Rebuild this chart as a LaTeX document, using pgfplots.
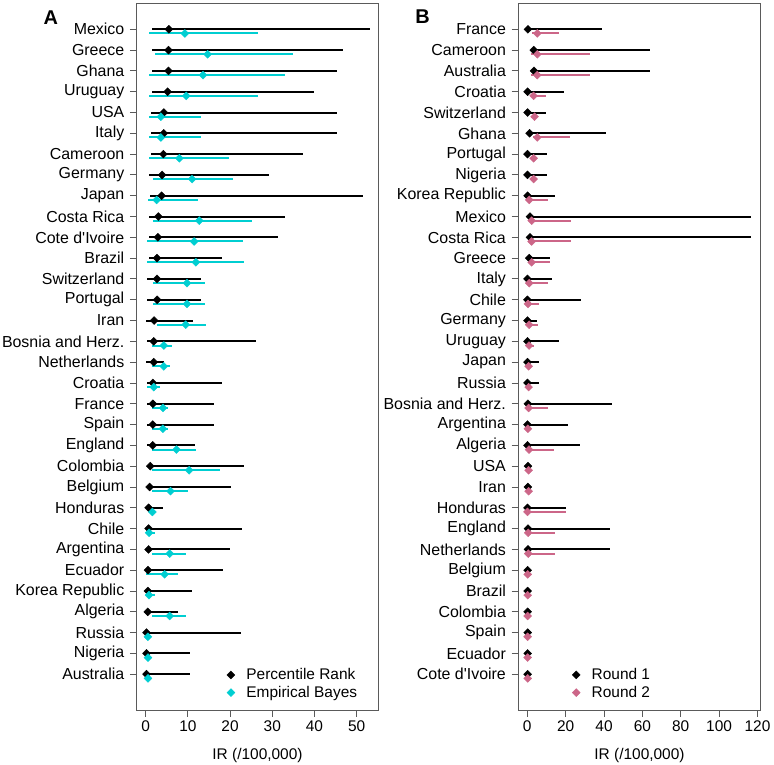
\documentclass[border=0pt]{standalone}
\usepackage{pgfplots}
\pgfplotsset{compat=1.18}
\usepackage{pgfplotstable}
\usepackage{fontspec}
\setmainfont{Liberation Sans}[Ligatures=TeXOff]
\definecolor{eb}{RGB}{0,206,209}
\definecolor{rtwo}{RGB}{204,102,136}
\definecolor{frame}{RGB}{90,90,90}

% Panel A: Percentile Rank (black)  y lo pt hi
\pgfplotstableread{
y lo pt hi
32 1.6 5.5 53.2
31 1.6 5.4 46.7
30 1.6 5.4 45.3
29 1.5 5.2 39.9
28 1.2 4.3 45.3
27 1.2 4.3 45.3
26 1.2 4.2 37.2
25 0.7 3.9 29.2
24 1.0 3.8 51.4
23 0.7 3.0 33.0
22 0.7 2.9 31.4
21 0.7 2.7 18.1
20 0.4 2.7 13.2
19 0.4 2.7 13.2
18 0.2 2.0 11.2
17 0.4 1.9 26.1
16 0.2 1.9 4.4
15 0.4 1.7 18.1
14 0.4 1.7 16.2
13 0.4 1.7 16.2
12 0.4 1.7 11.7
11 0.5 1.1 23.3
10 0.4 0.95 20.2
9 0.4 0.7 4.2
8 0.4 0.7 22.9
7 0.4 0.7 19.9
6 0.4 0.55 18.3
5 0.4 0.55 10.9
4 0.4 0.5 7.7
3 0.1 0.2 22.6
2 0.1 0.2 10.5
1 0.1 0.2 10.5
}\tApr
% Panel A: Empirical Bayes (cyan)
\pgfplotstableread{
y lo pt hi
32 0.9 9.3 26.5
31 2.1 14.7 35.0
30 0.9 13.6 33.0
29 0.9 9.6 26.6
28 0.7 3.6 13.2
27 0.7 3.6 13.2
26 0.8 8.0 19.8
25 1.8 11.0 20.8
24 0.5 2.6 12.5
23 1.7 12.7 25.2
22 0.4 11.5 23.1
21 0.4 11.9 23.3
20 1.7 9.8 14.0
19 1.7 9.8 14.0
18 2.7 9.5 14.3
17 1.5 4.3 6.3
16 1.5 4.3 5.8
15 0.4 1.9 3.5
14 1.5 4.1 5.2
13 1.5 4.1 5.2
12 1.5 7.3 11.9
11 1.5 10.3 17.6
10 1.5 5.9 10.1
9 0.7 1.6 2.3
8 0.1 0.8 2.1
7 1.5 5.7 9.5
6 0.1 4.5 7.6
5 0.1 0.8 2.1
4 1.5 5.7 9.5
3 0.1 0.55 1.1
2 0.1 0.55 1.1
1 0.1 0.55 1.1
}\tAeb
% Panel B: Round 1 (black)
\pgfplotstableread{
y lo pt hi
32 0 0.35 38.8
31 1.7 3.4 64.1
30 1.7 3.5 64.1
29 0 0.2 19.4
28 0 0.2 9.5
27 0 1.2 40.9
26 0 0.1 10.4
25 0 0.1 10.4
24 0 0.2 14.2
23 0 1.4 116.7
22 0 1.4 116.7
21 0 1.0 12.1
20 0 0.1 12.8
19 0 0.1 28.2
18 0 0.1 5.0
17 0 0.1 16.6
16 0 0.1 6.2
15 0 0.1 6.2
14 0 0.35 44.3
13 0 0.1 21.0
12 0 0.1 27.7
11 0 0.35 0.7
10 0 0.35 0.7
9 0 0.1 20.1
8 0 0.35 42.9
7 0 0.35 42.9
6 0 0.2 0.4
5 0 0.2 0.4
4 0 0.2 0.4
3 0 0.2 0.4
2 0 0.2 0.4
1 0 0.2 0.4
}\tBone
% Panel B: Round 2 (pink)
\pgfplotstableread{
y lo pt hi
32 2.5 5.2 16.3
31 1.7 5.2 32.9
30 1.7 5.2 32.9
29 1.7 3.3 9.5
28 1.7 3.8 5.0
27 3.1 5.2 22.2
26 1.7 3.3 5.0
25 1.7 3.3 5.0
24 0 1.0 10.6
23 1.0 2.3 22.9
22 1.0 2.3 22.9
21 1.0 2.3 12.1
20 0 1.0 10.9
19 0 0.35 5.9
18 0 1.0 5.4
17 0 0.9 3.6
16 0 0.7 1.5
15 0 0.7 1.5
14 0 0.7 10.9
13 0 0.35 0.7
12 0 0.9 14.0
11 0 0.7 1.0
10 0 0.7 1.0
9 0 0.1 20.1
8 0 0.5 14.4
7 0 0.5 14.4
6 0 0.2 0.4
5 0 0.2 0.4
4 0 0.2 0.4
3 0 0.2 0.4
2 0 0.2 0.4
1 0 0.2 0.4
}\tBtwo

\pgfplotsset{
  ciplot/.style={
    axis background/.style={fill=white},
    scale only axis,
    width=241.6bp, height=706.7bp,
    font=\fontsize{15.5}{18}\selectfont,
    /pgf/number format/assume math mode=true,
    ymin=-0.72, ymax=33.25,
    ytick={1,...,32},
    tick align=outside,
    major tick length=6.7bp,
    xtick pos=bottom, ytick pos=left,
    yticklabel style={font=\fontsize{16}{18}\selectfont, xshift=-2.2bp},
    axis line style={draw=frame, line width=0.9bp},
    tick style={draw=frame, line width=0.9bp},
    xlabel={IR (/100,000)},
    xlabel style={at={(axis description cs:0.5,-0.0637)}, anchor=center},
    legend cell align=left,
    legend image code/.code={%
      \path[draw=none,fill=none] (0bp,0bp) rectangle (22bp,0.1bp);
      \draw[##1, mark repeat=1] plot coordinates {(8bp,0bp)};},
    legend style={draw=none, fill=none, inner sep=0pt, row sep=2bp,
      nodes={inner sep=1.5bp},
      font=\fontsize{15.5}{18}\selectfont},
  },
  cis/.style={only marks, mark=square*, mark size=2.8bp,
    mark options={rotate=45, draw=#1, fill=#1},
    error bars/.cd, x dir=both, x explicit, error mark=none,
    error bar style={line width=2.0bp, draw=#1}},
}

\begin{document}
\begin{tikzpicture}
\path[use as bounding box] (0,0) rectangle (774bp,765bp);
\begin{axis}[ciplot,
  at={(136.7bp,55bp)}, anchor=south west,
  xmin=-2.12, xmax=55.12,
  xtick={0,10,20,30,40,50},
  yticklabels={Australia,Nigeria,Russia,Algeria,Korea Republic,Ecuador,Argentina,Chile,Honduras,Belgium,Colombia,England,Spain,France,Croatia,Netherlands,Bosnia and Herz.,Iran,Portugal,Switzerland,Brazil,Cote d'Ivoire,Costa Rica,Japan,Germany,Cameroon,Italy,USA,Uruguay,Ghana,Greece,Mexico},
  legend style={at={(axis description cs:0.356,0.061)}, anchor=north west},
]
\addplot[cis=black] table[x=pt, y=y,
  x error plus expr=\thisrow{hi}-\thisrow{pt},
  x error minus expr=\thisrow{pt}-\thisrow{lo}] {\tApr};
\addlegendentry{Percentile Rank}
\addplot[cis=eb] table[x=pt, y expr=\thisrow{y}-0.2,
  x error plus expr=\thisrow{hi}-\thisrow{pt},
  x error minus expr=\thisrow{pt}-\thisrow{lo}] {\tAeb};
\addlegendentry{Empirical Bayes}
\end{axis}
\begin{axis}[ciplot,
  at={(518.3bp,55bp)}, anchor=south west,
  width=242.4bp,
  xmin=-4.68, xmax=121.68,
  xtick={0,20,40,60,80,100,120},
  yticklabels={Cote d'Ivoire,Ecuador,Spain,Colombia,Brazil,Belgium,Netherlands,England,Honduras,Iran,USA,Algeria,Argentina,Bosnia and Herz.,Russia,Japan,Uruguay,Germany,Chile,Italy,Greece,Costa Rica,Mexico,Korea Republic,Nigeria,Portugal,Ghana,Switzerland,Croatia,Australia,Cameroon,France},
  legend style={at={(axis description cs:0.205,0.061)}, anchor=north west},
]
\addplot[cis=black] table[x=pt, y=y,
  x error plus expr=\thisrow{hi}-\thisrow{pt},
  x error minus expr=\thisrow{pt}-\thisrow{lo}] {\tBone};
\addlegendentry{Round 1}
\addplot[cis=rtwo] table[x=pt, y expr=\thisrow{y}-0.2,
  x error plus expr=\thisrow{hi}-\thisrow{pt},
  x error minus expr=\thisrow{pt}-\thisrow{lo}] {\tBtwo};
\addlegendentry{Round 2}
\end{axis}
\node[font=\fontsize{20}{24}\selectfont\bfseries] at (50.8bp,747.5bp) {A};
\node[font=\fontsize{20}{24}\selectfont\bfseries] at (422.5bp,748.5bp) {B};
\end{tikzpicture}
\end{document}
